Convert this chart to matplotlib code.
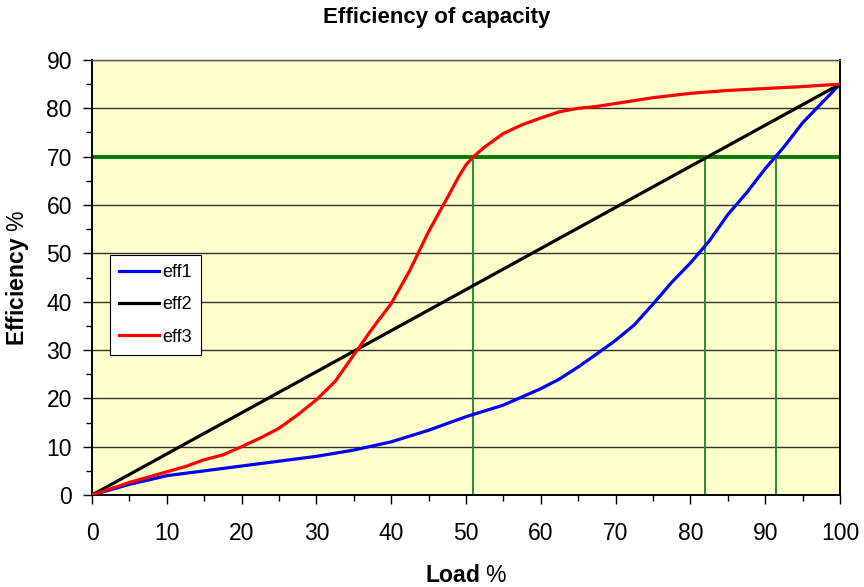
import matplotlib
matplotlib.use('Agg')
import matplotlib.pyplot as plt
from matplotlib.ticker import MultipleLocator

plt.rcParams['font.family'] = 'Liberation Sans'
plt.rcParams['mathtext.fontset'] = 'custom'
plt.rcParams['mathtext.bf'] = 'Liberation Sans:bold'
plt.rcParams['mathtext.rm'] = 'Liberation Sans'

# Data
eff1_x = [0, 5, 10, 15, 20, 25, 30, 35, 40, 45, 50, 55, 60, 62.5, 65, 67.5, 70,
          72.5, 75, 77.5, 80, 82.5, 85, 87.5, 90, 92.5, 95, 97.5, 100]
eff1_y = [0, 2.2, 4, 5, 6, 7, 8, 9.3, 11, 13.4, 16.2, 18.6, 22, 24, 26.5, 29.2, 32,
          35.2, 39.5, 44, 48, 52.5, 58, 62.5, 67.5, 72, 77, 81, 85]

eff2_x = [0, 10, 20, 30, 40, 50, 60, 70, 80, 90, 100]
eff2_y = [0, 8.5, 17, 25.5, 34, 42.5, 51, 59.5, 68, 76.5, 85]

eff3_x = [0, 5, 10, 12.5, 15, 17.5, 20, 22.5, 25, 27.5, 30, 32.5, 35, 37.5, 40,
          42.5, 45, 47.5, 49, 50, 51, 52.5, 55, 57.5, 60, 62.5, 65, 67.5, 70,
          75, 80, 85, 90, 95, 100]
eff3_y = [0, 2.6, 4.8, 5.9, 7.3, 8.3, 10, 11.8, 13.8, 16.6, 19.7, 23.5, 29, 34.5, 39.6,
          46.5, 54.5, 61.5, 65.8, 68.3, 70, 72, 74.8, 76.6, 78, 79.3, 80, 80.4, 81,
          82.2, 83.1, 83.7, 84.1, 84.5, 85]

target = 70
crossings = [51, 82, 91.5]

fig = plt.figure(figsize=(8.64, 5.87), dpi=100)
ax = fig.add_axes([0.1065, 0.1567, 0.8657, 0.7411])
ax.set_facecolor('#FFFFCC')

# Gridlines
ax.set_axisbelow(True)
ax.grid(axis='y', color='#333333', linewidth=1.0)

# Target line and crossings
ax.plot([0, 99.7], [target, target], color='#007A00', lw=2.8, zorder=2)
for c in crossings:
    ax.plot([c, c], [0, target], color='#2E8B2E', lw=1.4, zorder=2)

ax.plot(eff1_x, eff1_y, color='#0000FF', lw=2.3, label='eff1', zorder=3)
ax.plot(eff2_x, eff2_y, color='#000000', lw=2.3, label='eff2', zorder=3)
ax.plot(eff3_x, eff3_y, color='#FF0000', lw=2.3, label='eff3', zorder=3)

ax.set_xlim(0, 100)
ax.set_ylim(0, 90)
ax.xaxis.set_major_locator(MultipleLocator(10))
ax.xaxis.set_minor_locator(MultipleLocator(5))
ax.yaxis.set_major_locator(MultipleLocator(10))
ax.yaxis.set_minor_locator(MultipleLocator(5))
ax.tick_params(which='major', direction='out', length=6.5, width=1.0, labelsize=16.5)
ax.tick_params(which='minor', direction='out', length=4, width=1.0)
ax.tick_params(axis='x', pad=13)
ax.tick_params(axis='y', pad=8)

for side in ['left', 'bottom', 'right']:
    ax.spines[side].set_linewidth(1.4)
    ax.spines[side].set_color('black')
ax.spines['top'].set_color('#555555')
ax.spines['top'].set_linewidth(1.0)

fig.text(437 / 864, 1 - 18 / 587, 'Efficiency of capacity', fontsize=16,
         fontweight='bold', ha='center', va='center')
fig.text(466 / 864, 1 - 576 / 587, r'$\mathbf{Load}$ %', fontsize=16.5,
         ha='center', va='center')
fig.text(18 / 864, 1 - 278 / 587, r'$\mathbf{Efficiency}$ %', fontsize=16.5,
         ha='center', va='center', rotation=90)

leg = ax.legend(loc='upper left', bbox_to_anchor=(0.024, 0.552), fontsize=13,
                frameon=True, fancybox=False, edgecolor='black', framealpha=1,
                handlelength=2.2, labelspacing=0.85, borderpad=0.5,
                handletextpad=0.2, borderaxespad=0)
leg.get_frame().set_linewidth(0.8)

fig.savefig('out.png', dpi=100)
